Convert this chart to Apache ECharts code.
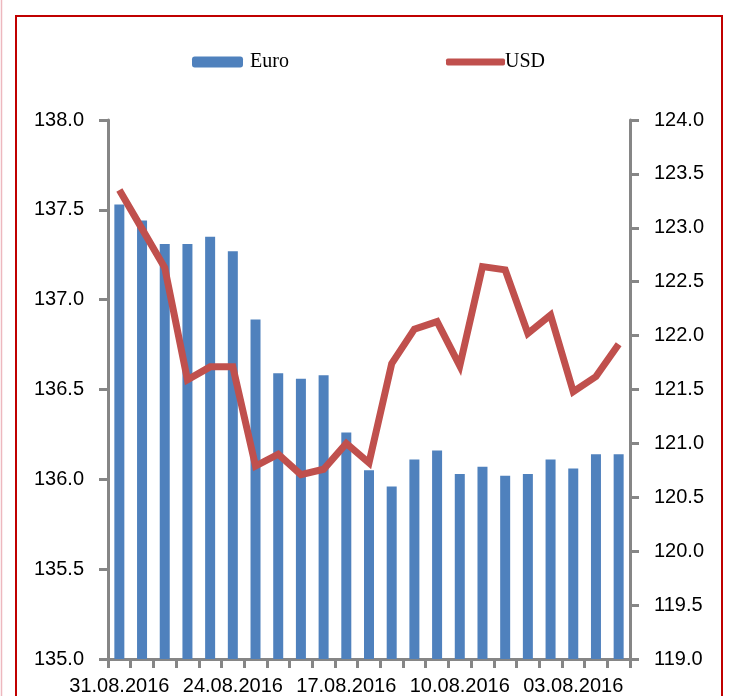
<!DOCTYPE html>
<html>
<head>
<meta charset="utf-8">
<script src="https://cdn.jsdelivr.net/npm/echarts@6/dist/echarts.min.js"></script>
<style>
html,body{margin:0;padding:0;background:#fff;}
#chart{width:733px;height:696px;}
</style>
</head>
<body>
<div id="chart"></div>
<script>
const categories = ['31.08.2016','30.08.2016','29.08.2016','26.08.2016','25.08.2016','24.08.2016','23.08.2016','22.08.2016','19.08.2016','18.08.2016','17.08.2016','16.08.2016','15.08.2016','12.08.2016','11.08.2016','10.08.2016','09.08.2016','08.08.2016','05.08.2016','04.08.2016','03.08.2016','02.08.2016','01.08.2016'];
const euro = [137.53,137.44,137.31,137.31,137.35,137.27,136.89,136.59,136.56,136.58,136.26,136.05,135.96,136.11,136.16,136.03,136.07,136.02,136.03,136.11,136.06,136.14,136.14];
const usd = [123.35,122.99,122.63,121.59,121.71,121.71,120.79,120.90,120.71,120.76,121.00,120.82,121.74,122.06,122.13,121.72,122.64,122.61,122.02,122.19,121.48,121.62,121.92];
const leftTicks = {min:135, max:138, interval:0.5};
const rightTicks = {min:119, max:124, interval:0.5};

const axisColor = '#868686';
const labelFont = {fontFamily:'Liberation Sans', fontSize:20, color:'#000'};

const chart = echarts.init(document.getElementById('chart'));
chart.setOption({
  animation:false,
  backgroundColor:'#fff',
  grid:{left:108, right:103, top:120, bottom:34, containLabel:false},
  legend:[
    {data:['Euro'], left:187, top:47, itemWidth:51, itemHeight:11, itemGap:0,
     textStyle:{fontFamily:'Liberation Serif', fontSize:20, color:'#000', padding:[0,0,0,2]}},
    {data:[{name:'USD', icon:'roundRect'}], left:441, top:47, itemWidth:59, itemHeight:7, itemGap:0,
     textStyle:{fontFamily:'Liberation Serif', fontSize:20, color:'#000', padding:[0,0,0,-5]}}
  ],
  xAxis:{
    type:'category', data:categories, boundaryGap:true,
    axisLine:{lineStyle:{color:axisColor, width:3}},
    axisTick:{show:true, length:9, lineStyle:{color:axisColor, width:3}, alignWithLabel:false, interval:0},
    axisLabel:Object.assign({interval:4, margin:17}, labelFont)
  },
  yAxis:[
    {type:'value', min:leftTicks.min, max:leftTicks.max, interval:leftTicks.interval, position:'left',
     axisLine:{show:true, lineStyle:{color:axisColor, width:3}},
     axisTick:{show:true, length:9, lineStyle:{color:axisColor, width:3}},
     splitLine:{show:false},
     axisLabel:Object.assign({margin:24, formatter:v=>v.toFixed(1)}, labelFont)},
    {type:'value', min:rightTicks.min, max:rightTicks.max, interval:rightTicks.interval, position:'right',
     axisLine:{show:true, lineStyle:{color:axisColor, width:3}},
     axisTick:{show:true, length:9, lineStyle:{color:axisColor, width:3}},
     splitLine:{show:false},
     axisLabel:Object.assign({margin:24, formatter:v=>v.toFixed(1)}, labelFont)}
  ],
  series:[
    {name:'Euro', type:'bar', data:euro, yAxisIndex:0, barWidth:10,
     itemStyle:{color:'#4F81BD'}},
    {name:'USD', type:'line', data:usd, yAxisIndex:1, symbol:'none',
     lineStyle:{color:'#C0504D', width:7, join:'miter'}, itemStyle:{color:'#C0504D'}}
  ],
  graphic:[
    {type:'rect', shape:{x:16, y:16, width:706, height:720}, style:{fill:'none', stroke:'#C00000', lineWidth:2}, z:100},
    {type:'line', shape:{x1:1.5, y1:0, x2:1.5, y2:696}, style:{stroke:'#EDB8BE', lineWidth:1.5}, z:100}
  ]
});
</script>
</body>
</html>
